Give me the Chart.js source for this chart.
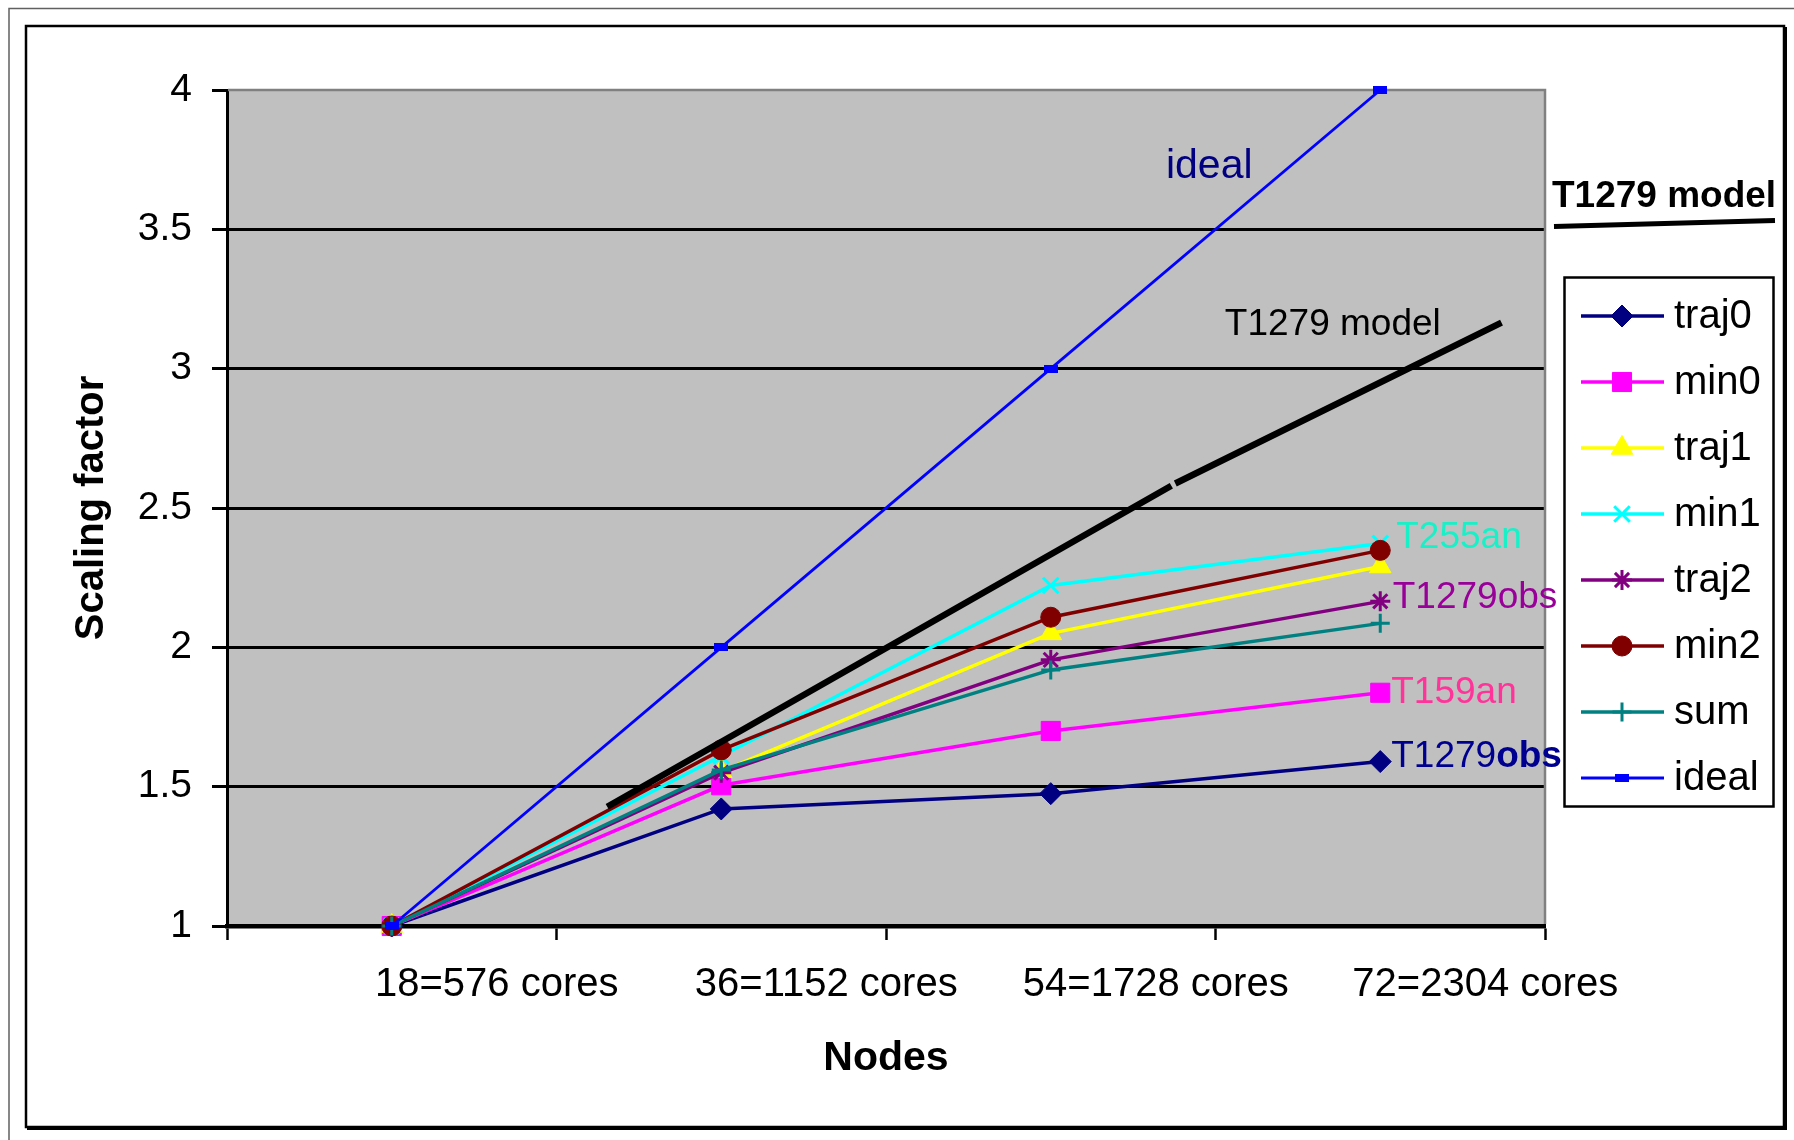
<!DOCTYPE html>
<html>
<head>
<meta charset="utf-8">
<title>Scaling factor vs nodes</title>
<script src="https://cdn.jsdelivr.net/npm/chart.js@4.4.1/dist/chart.umd.min.js"></script>
<style>
  html, body { margin: 0; padding: 0; background: #fff; }
  canvas { display: block; }
</style>
</head>
<body>
<canvas id="c" width="1794" height="1140"></canvas>
<script>
// ---- data ----
const categories = ['18=576 cores', '36=1152 cores', '54=1728 cores', '72=2304 cores'];
const traj0 = [1, 1.42, 1.475, 1.59];
const min0  = [1, 1.505, 1.70, 1.837];
const traj1 = [1, 1.555, 2.05, 2.29];
const min1  = [1, 1.61, 2.222, 2.373];
const traj2 = [1, 1.55, 1.955, 2.165];
const min2  = [1, 1.632, 2.108, 2.348];
const sum   = [1, 1.56, 1.919, 2.086];
const ideal = [1, 2, 3, 4];
// T1279 model curve; x in node-group units (0 = 18 nodes ... 3 = 72 nodes)
const modelX = [0.654, 2.366, 2.372, 2.378, 3.368];
const modelY = [1.428, 2.580, null, 2.588, 3.165];
const yTickLabels = ['1', '1.5', '2', '2.5', '3', '3.5', '4'];

const seriesNames  = ['traj0', 'min0', 'traj1', 'min1', 'traj2', 'min2', 'sum', 'ideal'];
const seriesValues = [traj0, min0, traj1, min1, traj2, min2, sum, ideal];

// ---- styles ----
const FONT = '"Liberation Sans", Arial, Helvetica, sans-serif';
const colors = ['#000080', '#FF00FF', '#FFFF00', '#00FFFF', '#800080', '#800000', '#008080', '#0000FF'];

// small dash marker used for the ideal series
const dash = document.createElement('canvas');
dash.width = 14; dash.height = 8;
(function () { const g = dash.getContext('2d'); g.fillStyle = '#0000FF'; g.fillRect(0, 0, 14, 8); })();

const markers = [
  { style: 'rectRot',  r: 11,   bw: 1 },
  { style: 'rect',     r: 13.5, bw: 1 },
  { style: 'triangle', r: 12.5, bw: 1 },
  { style: 'crossRot', r: 11,   bw: 3 },
  { style: 'star',     r: 10,   bw: 3 },
  { style: 'circle',   r: 10,   bw: 1 },
  { style: 'cross',    r: 9.5,  bw: 3 },
  { style: dash,       r: 7,    bw: 0 }
];

const datasets = seriesNames.map((name, i) => ({
  label: name,
  data: seriesValues[i],
  xAxisID: 'x',
  yAxisID: 'y',
  borderColor: colors[i],
  backgroundColor: colors[i],
  borderWidth: i === 7 ? 2.8 : 3.5,
  pointStyle: markers[i].style,
  pointRadius: markers[i].r,
  pointBorderWidth: markers[i].bw,
  pointBackgroundColor: colors[i],
  pointBorderColor: colors[i],
  tension: 0,
  fill: false,
  clip: false,
  order: 7 - i
}));

datasets.push({
  label: 'T1279 model',
  data: modelX.map((x, i) => ({ x: x, y: modelY[i] })),
  xAxisID: 'xm',
  yAxisID: 'y',
  borderColor: '#000',
  borderWidth: 6.5,
  pointRadius: 0,
  tension: 0,
  fill: false,
  spanGaps: false,
  clip: false,
  order: -1
});

// ---- plugins ----
const framePlugin = {
  id: 'frame',
  beforeDraw(chart) {
    const ctx = chart.ctx, a = chart.chartArea;
    ctx.save();
    ctx.fillStyle = '#fff';
    ctx.fillRect(0, 0, chart.width, chart.height);
    // outer thin border
    ctx.strokeStyle = '#606060';
    ctx.lineWidth = 1.5;
    ctx.beginPath();
    ctx.moveTo(9, chart.height); ctx.lineTo(9, 8.5); ctx.lineTo(chart.width, 8.5);
    ctx.stroke();
    // inner chart border
    ctx.strokeStyle = '#000';
    ctx.lineWidth = 2.5;
    ctx.strokeRect(26, 26, 1758, 1101);
    ctx.lineWidth = 3;
    ctx.beginPath();
    ctx.moveTo(1785.5, 27); ctx.lineTo(1785.5, 1128.5); ctx.lineTo(27, 1128.5);
    ctx.stroke();
    // plot area
    ctx.fillStyle = '#C0C0C0';
    ctx.fillRect(a.left, a.top, a.right - a.left, a.bottom - a.top);
    ctx.restore();
  },
  beforeDatasetsDraw(chart) {
    const ctx = chart.ctx, a = chart.chartArea;
    ctx.save();
    ctx.strokeStyle = '#808080';
    ctx.lineWidth = 2.5;
    ctx.beginPath();
    ctx.moveTo(a.left + 1, a.top); ctx.lineTo(a.right, a.top); ctx.lineTo(a.right, a.bottom - 2);
    ctx.stroke();
    ctx.restore();
  }
};

const labelPlugin = {
  id: 'seriesLabels',
  afterDatasetsDraw(chart) {
    const ctx = chart.ctx;
    const xs = chart.scales.x, ys = chart.scales.y, xm = chart.scales.xm;
    ctx.save();
    ctx.textAlign = 'center';
    ctx.textBaseline = 'middle';
    ctx.fillStyle = '#000080';
    ctx.font = '41px ' + FONT;
    ctx.fillText('ideal', xm.getPixelForValue(2.481), ys.getPixelForValue(3.725));
    ctx.fillStyle = '#000';
    ctx.font = '37px ' + FONT;
    ctx.fillText('T1279 model', xm.getPixelForValue(2.856), ys.getPixelForValue(3.157));

    // labels beside the last point of some series
    const last = categories.length - 1;
    const px = xs.getPixelForValue(last);
    const ends = [
      { v: min1[last],  text: 'T255an',   color: '#18F0C8', dx: 16,   dy: 5 },
      { v: traj2[last], text: 'T1279obs', color: '#990099', dx: 12.5, dy: 7 },
      { v: min0[last],  text: 'T159an',   color: '#FF3399', dx: 11,   dy: 10 }
    ];
    ctx.textAlign = 'left';
    ctx.textBaseline = 'alphabetic';
    ends.forEach(e => {
      ctx.fillStyle = e.color;
      ctx.fillText(e.text, px + e.dx, ys.getPixelForValue(e.v) + e.dy);
    });
    // navy label with bold suffix
    const by = ys.getPixelForValue(traj0[last]) + 5;
    let bx = px + 11;
    ctx.fillStyle = '#000090';
    ctx.font = '37px ' + FONT;
    ctx.fillText('T1279', bx, by);
    bx += ctx.measureText('T1279').width;
    ctx.font = 'bold 37px ' + FONT;
    ctx.fillText('obs', bx, by);
    ctx.restore();
  }
};

const legendPlugin = {
  id: 'boxLegend',
  afterDraw(chart) {
    const ctx = chart.ctx;
    const H = Chart.helpers;
    ctx.save();
    // heading with underline
    ctx.fillStyle = '#000';
    ctx.font = 'bold 37px ' + FONT;
    ctx.textAlign = 'left';
    ctx.textBaseline = 'alphabetic';
    ctx.fillText('T1279 model', 1552, 206.5);
    ctx.strokeStyle = '#000';
    ctx.lineWidth = 5;
    ctx.beginPath();
    ctx.moveTo(1554, 226.5); ctx.lineTo(1775, 220.5);
    ctx.stroke();

    // legend box
    ctx.fillStyle = '#fff';
    ctx.fillRect(1564.5, 277.5, 209, 529);
    ctx.lineWidth = 2.5;
    ctx.strokeRect(1564.5, 277.5, 209, 529);

    const n = seriesNames.length;
    for (let i = 0; i < n; i++) {
      const ds = chart.data.datasets[i];
      const y = 316 + i * 66;
      ctx.strokeStyle = ds.borderColor;
      ctx.lineWidth = ds.borderWidth;
      ctx.beginPath();
      ctx.moveTo(1581, y); ctx.lineTo(1664, y);
      ctx.stroke();
      ctx.fillStyle = ds.pointBackgroundColor;
      ctx.strokeStyle = ds.pointBorderColor;
      ctx.lineWidth = ds.pointBorderWidth;
      if (H && H.drawPoint) {
        H.drawPoint(ctx, { pointStyle: ds.pointStyle, radius: ds.pointRadius, borderWidth: ds.pointBorderWidth, rotation: 0 }, 1622, y);
      }
      ctx.fillStyle = '#000';
      ctx.font = '40px ' + FONT;
      ctx.textBaseline = 'middle';
      ctx.fillText(ds.label, 1674, y + 1);
    }
    ctx.restore();
  }
};

Chart.defaults.font.family = FONT;

new Chart(document.getElementById('c'), {
  type: 'line',
  data: { labels: categories, datasets: datasets },
  options: {
    responsive: false,
    animation: false,
    devicePixelRatio: 1,
    layout: { padding: { left: 60, top: 90, right: 249, bottom: 40 } },
    plugins: { legend: { display: false }, tooltip: { enabled: false } },
    scales: {
      x: {
        type: 'category',
        offset: true,
        grid: { offset: true, drawOnChartArea: false, color: '#000', tickColor: '#000', tickLength: 14, tickWidth: 2.5 },
        border: { color: '#000', width: 4.5 },
        ticks: { font: { family: FONT, size: 40 }, color: '#000', padding: 21, labelOffset: 105, maxRotation: 0, autoSkip: false },
        title: { display: true, text: 'Nodes', color: '#000', font: { family: FONT, size: 41, weight: 'bold' }, padding: { top: 0, bottom: 17 } },
        afterFit(s) { s.height = 174; }
      },
      xm: { type: 'linear', min: -0.5, max: 3.5, display: false },
      y: {
        type: 'linear',
        min: 1,
        max: 4,
        ticks: {
          stepSize: 0.5,
          color: '#000',
          font: { family: FONT, size: 39 },
          padding: 20,
          callback: (v, i) => yTickLabels[i]
        },
        grid: {
          color: c => (c.tick && (c.tick.value === 1 || c.tick.value === 4)) ? 'rgba(0,0,0,0)' : '#000',
          lineWidth: 3,
          tickColor: '#000',
          tickLength: 15,
          tickWidth: 3
        },
        border: { color: '#000', width: 3 },
        title: { display: true, text: 'Scaling factor', color: '#000', font: { family: FONT, size: 40, weight: 'bold' }, padding: { top: 8, bottom: 0 } },
        afterFit(s) { s.width = 167; }
      }
    }
  },
  plugins: [framePlugin, labelPlugin, legendPlugin]
});
</script>
</body>
</html>
